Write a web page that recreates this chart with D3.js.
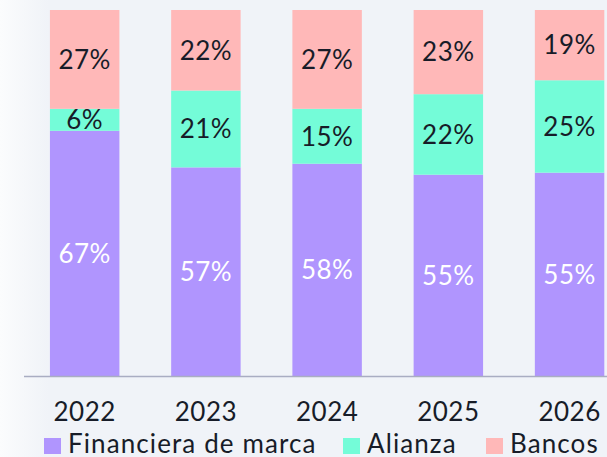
<!DOCTYPE html>
<html>
<head>
<meta charset="utf-8">
<script src="https://cdn.jsdelivr.net/npm/d3@7"></script>
<style>
  body { margin: 0; background: #f0f3f8; }
  svg { display: block; }
  text { font-family: Lato, "Open Sans", sans-serif; font-weight: 400; }
</style>
</head>
<body>
<div id="chart"></div>
<script>
var years = ["2022", "2023", "2024", "2025", "2026"];
var seriesNames = ["Financiera de marca", "Alianza", "Bancos"];
var financiera = [67, 57, 58, 55, 55];
var alianza = [6, 21, 15, 22, 25];
var bancos = [27, 22, 27, 23, 19];
var colors = ["#b095fe", "#74fcd8", "#ffb8b8"];

var dim = { width: 607, height: 457, top: 10, bottom: 376, left: 24 };

var rows = years.map(function(y, i) {
  return { year: y, "Financiera de marca": financiera[i], "Alianza": alianza[i], "Bancos": bancos[i] };
});

var stack = d3.stack().keys(seriesNames).offset(d3.stackOffsetExpand);
var series = stack(rows);

var x = d3.scaleBand()
    .domain(years)
    .range([dim.left, dim.left + 5 * 121.25])
    .paddingInner(0.427)
    .paddingOuter(0.214);
var y = d3.scaleLinear()
    .domain([0, 1])
    .range([dim.bottom, dim.top]);
var color = d3.scaleOrdinal().domain(seriesNames).range(colors);

var svg = d3.select("#chart").append("svg")
    .attr("width", dim.width)
    .attr("height", dim.height);

var grad = svg.append("defs").append("linearGradient")
    .attr("id", "bg")
    .attr("x1", 0).attr("x2", 1).attr("y1", 0).attr("y2", 0);
grad.append("stop").attr("offset", 0).attr("stop-color", "#fbfcfd");
grad.append("stop").attr("offset", 0.08).attr("stop-color", "#f0f3f8");
grad.append("stop").attr("offset", 1).attr("stop-color", "#f0f3f8");

svg.append("rect")
    .attr("width", dim.width)
    .attr("height", dim.height)
    .attr("fill", "url(#bg)");

var layer = svg.selectAll("g.layer").data(series).enter()
    .append("g")
    .attr("class", "layer")
    .attr("fill", function(d) { return color(d.key); });

layer.selectAll("rect").data(function(d) { return d; }).enter()
    .append("rect")
    .attr("x", function(d) { return x(d.data.year); })
    .attr("width", x.bandwidth())
    .attr("y", function(d) { return y(d[1]); })
    .attr("height", function(d) { return y(d[0]) - y(d[1]); });

layer.selectAll("text").data(function(d) {
      return d.map(function(p) { p.key = d.key; return p; });
    }).enter()
    .append("text")
    .attr("x", function(d) { return x(d.data.year) + x.bandwidth() / 2; })
    .attr("y", function(d) { return (y(d[0]) + y(d[1])) / 2; })
    .attr("dy", "0.36em")
    .attr("text-anchor", "middle")
    .attr("font-size", 26)
    .attr("letter-spacing", 0.5)
    .attr("fill", function(d) { return d.key === "Financiera de marca" ? "#ffffff" : "#171c28"; })
    .text(function(d) { return d.data[d.key] + "%"; });

// baseline axis
var xAxis = d3.axisBottom(x).tickSize(0).tickPadding(0);
var axisG = svg.append("g")
    .attr("transform", "translate(0," + dim.bottom + ")")
    .call(xAxis);
axisG.select(".domain")
    .attr("d", "M" + dim.left + ",0.5H" + dim.width)
    .attr("stroke", "#a9adc2")
    .attr("stroke-width", 1.5);
axisG.selectAll("text")
    .attr("y", 45)
    .attr("dy", null)
    .attr("font-size", 26)
    .attr("letter-spacing", 0.5)
    .attr("font-family", "Lato, sans-serif")
    .attr("fill", "#171c28");

// legend
var legendX = [44, 343, 486];
var legend = svg.selectAll("g.legend").data(seriesNames).enter()
    .append("g")
    .attr("class", "legend")
    .attr("transform", function(d, i) { return "translate(" + legendX[i] + ",438)"; });
legend.append("rect")
    .attr("width", 17)
    .attr("height", 16)
    .attr("fill", function(d) { return color(d); });
legend.append("text")
    .attr("x", 24)
    .attr("y", 15)
    .attr("font-size", 26)
    .attr("letter-spacing", 1.1)
    .attr("fill", "#171c28")
    .text(function(d) { return d; });
</script>
</body>
</html>
